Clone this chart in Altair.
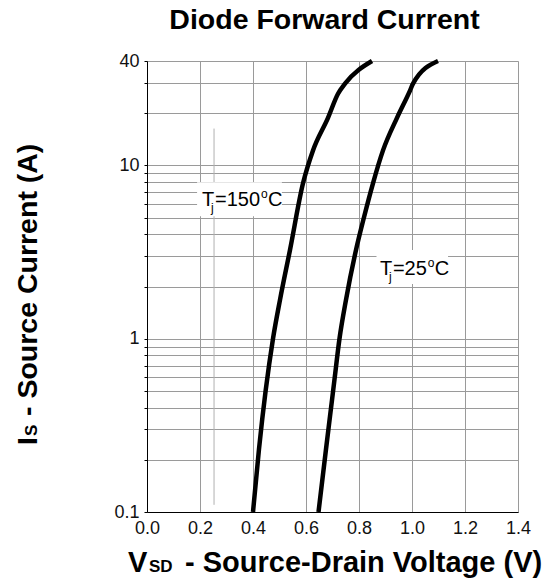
import altair as alt
import pandas as pd

# Forward characteristics of the body diode (V_SD in volts, I_S in amperes)
v_150 = [0.400, 0.4226, 0.4755, 0.5019, 0.5396, 0.5887, 0.6264, 0.6830, 0.7208, 0.7472, 0.8491]
i_150 = [0.1, 0.2305, 1.0, 1.675, 3.25, 7.88, 12.2, 18.8, 25.9, 29.6, 40.0]
v_25 = [0.6472, 0.6755, 0.6906, 0.7075, 0.7264, 0.7509, 0.7887, 0.8189, 0.8528,
        0.8906, 0.9434, 0.9925, 1.0038, 1.0981]
i_25 = [0.1, 0.2305, 0.3564, 0.5815, 1.0, 1.675, 3.25, 5.02, 7.88,
        12.2, 18.8, 27.0, 29.6, 40.0]

# Axis ticks / grid positions
x_grid = [0.0, 0.1, 0.2, 0.3, 0.4, 0.5, 0.6, 0.7, 0.8, 0.9, 1.0, 1.1, 1.2, 1.3, 1.4]
y_grid = [0.1, 0.2, 0.3, 0.4, 0.5, 0.6, 0.7, 0.8, 0.9,
          1, 2, 3, 4, 5, 6, 7, 8, 9, 10, 20, 30, 40]

# Curve annotations: label anchor (V, I), white box corners
temps = ["150", "25"]
label_v = [0.2075, 0.879]
label_i = [5.81, 2.33]
box_v = [0.189, 0.866]
box_v2 = [0.509, 1.136]
box_i = [5.09, 2.07]
box_i2 = [7.98, 3.25]

# Stray marker line on the grid
marker_v = [0.253]
marker_i = [16.3]
marker_i2 = [0.11]

FONT = "Liberation Sans"

curves = pd.DataFrame(
    [{"V": v, "I": i, "Tj": "150"} for v, i in zip(v_150, i_150)]
    + [{"V": v, "I": i, "Tj": "25"} for v, i in zip(v_25, i_25)]
)
labels = pd.DataFrame({"Tj": temps, "V": label_v, "I": label_i,
                       "x1": box_v, "x2": box_v2, "y1": box_i, "y2": box_i2})
marker = pd.DataFrame({"V": marker_v, "I": marker_i, "I2": marker_i2})

xs = alt.Scale(domain=[0, 1.4], nice=False, zero=False)
ys = alt.Scale(type="log", domain=[0.1, 40], nice=False)

x_axis = alt.Axis(
    values=x_grid, title=None, ticks=False, labelPadding=7,
    labelExpr="round(datum.value*10) % 2 == 0 ? format(datum.value, '.1f') : ''",
    labelFont=FONT, labelFontSize=18, labelColor="#111",
    gridColor="#9a9a9a", gridOpacity=1, gridWidth=1,
    domainColor="black", labelFlush=False,
)
y_axis = alt.Axis(
    values=y_grid, title=None, tickSize=3, tickColor="black", labelPadding=5,
    labelExpr="indexof([0.1, 1, 10, 40], datum.value) >= 0 ? format(datum.value, '~g') : ''",
    labelFont=FONT, labelFontSize=18, labelColor="#111",
    gridColor="#9a9a9a", gridOpacity=1, gridWidth=1,
    domainColor="black", labelFlush=False, labelOverlap=False,
)

base = alt.Chart(curves)

grid = base.mark_point(opacity=0).encode(
    x=alt.X("V:Q", scale=xs, axis=x_axis),
    y=alt.Y("I:Q", scale=ys, axis=y_axis),
)

stray = alt.Chart(marker).mark_rule(color="#b0b0b0", strokeWidth=1).encode(
    x=alt.X("V:Q", scale=xs), y=alt.Y("I:Q", scale=ys), y2="I2:Q"
)

lines = base.mark_line(color="black", strokeWidth=4.5, interpolate="monotone",
                       strokeCap="butt").encode(
    x=alt.X("V:Q", scale=xs), y=alt.Y("I:Q", scale=ys), detail="Tj:N",
    order=alt.Order("V:Q"),
)

lab = alt.Chart(labels)
boxes = lab.mark_rect(fill="white", opacity=1, strokeWidth=0).encode(
    x=alt.X("x1:Q", scale=xs), x2="x2:Q",
    y=alt.Y("y1:Q", scale=ys), y2="y2:Q",
)

# "T_j=<temp>°C" built from pieces so the subscript and degree ring sit right
label_layers = []
for temp in temps:
    sel = lab.transform_filter(alt.datum.Tj == temp)
    eq_w = 20 * (0.584 + 0.556 * len(temp))
    pieces = [
        ("T", 0, 0, 20),
        ("j", 9, 6, 12),
        ("=" + temp, 13, 0, 20),
        ("o", 13 + eq_w + 1, -8, 12),
        ("C", 13 + eq_w + 8, 0, 20),
    ]
    for txt, dx, dy, size in pieces:
        label_layers.append(
            sel.mark_text(align="left", baseline="alphabetic", font=FONT,
                          fontSize=size, dx=dx, dy=dy, color="black").encode(
                x=alt.X("V:Q", scale=xs), y=alt.Y("I:Q", scale=ys),
                text=alt.value(txt),
            )
        )


def free_text(txt, x, y, size, angle=0, align="left"):
    return alt.Chart(pd.DataFrame({"t": [txt]})).mark_text(
        align=align, baseline="alphabetic", font=FONT, fontSize=size,
        fontWeight="bold", angle=angle, color="black",
    ).encode(x=alt.value(x), y=alt.value(y), text="t:N")


chart_title = free_text("Diode Forward Current", 177.5, -32, 28.5, align="center")

# x-axis title: V with subscript SD
xt_v = free_text("V", -19, 511, 29)
xt_sd = free_text("SD", 2, 511, 17)
xt_rest = free_text("- Source-Drain Voltage (V)", 38, 511, 29)

# y-axis title: I with subscript S, read bottom to top
yt_i = free_text("I", -110, 384, 28, angle=270)
yt_s = free_text("S", -110, 375, 17, angle=270)
yt_rest = free_text("- Source Current (A)", -110, 355, 28.5, angle=270)

chart = alt.layer(
    grid, stray, lines, boxes, *label_layers,
    chart_title, xt_v, xt_sd, xt_rest, yt_i, yt_s, yt_rest,
).properties(
    width=371, height=451,
    padding={"left": 147, "top": 61, "right": 29, "bottom": 66},
    autosize=alt.AutoSizeParams(type="none"),
).configure_view(stroke="black", strokeWidth=1).configure(background="white")

chart.save("out.html", embed_options={"renderer": "svg", "actions": False})
